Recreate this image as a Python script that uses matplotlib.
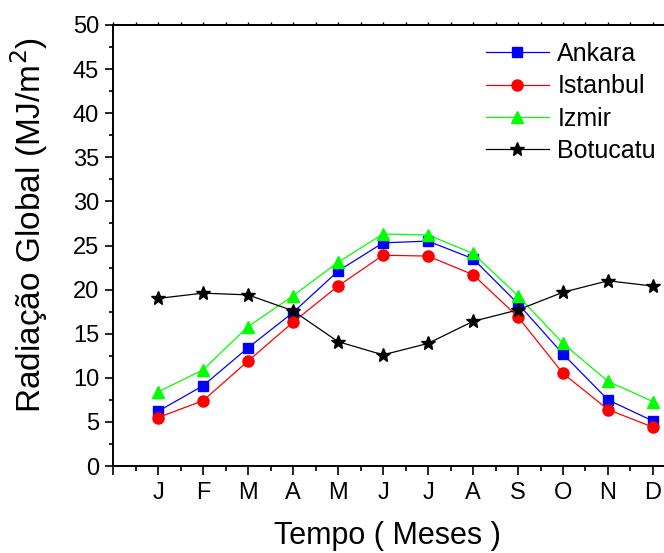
import matplotlib.pyplot as plt
import numpy as np

plt.rcParams["font.family"] = ["Liberation Sans", "DejaVu Sans"]

MONTHS = ["J", "F", "M", "A", "M", "J", "J", "A", "S", "O", "N", "D"]
ANKARA   = [6.2, 9.1, 13.4, 17.4, 22.1, 25.3, 25.5, 23.5, 18.4, 12.7, 7.5, 5.1]
ISTANBUL = [5.5, 7.4, 11.9, 16.3, 20.4, 23.9, 23.8, 21.7, 16.9, 10.5, 6.4, 4.4]
IZMIR    = [8.4, 10.9, 15.8, 19.3, 23.1, 26.3, 26.2, 24.1, 19.3, 13.9, 9.6, 7.3]
BOTUCATU = [19.0, 19.6, 19.4, 17.6, 14.1, 12.6, 13.9, 16.4, 17.7, 19.7, 21.0, 20.4]


def main():
    fig = plt.figure(figsize=(6.64, 5.53), dpi=100)
    # axes runs past the right edge, as in the cropped original
    ax = fig.add_axes([0.1702, 0.1573, 0.881, 0.7975])
    x = np.arange(1, 13)

    ax.plot(x, ANKARA, color="#0000ff", lw=0.9, marker="s", ms=7, label="Ankara")
    ax.plot(x, ISTANBUL, color="#ff0000", lw=0.9, marker="o", ms=8, label="Istanbul")
    ax.plot(x, IZMIR, color="#00ff00", lw=0.9, marker="^", ms=8.5, label="Izmir")
    ax.plot(x, BOTUCATU, color="black", lw=0.9, marker="*", ms=10, label="Botucatu")

    ax.set_xlim(0, 13)
    ax.set_ylim(0, 50)
    ax.set_xticks(np.arange(0, 14))
    ax.set_xticklabels([""] + MONTHS + [""])
    ax.set_xticks(np.arange(0.5, 13, 1), minor=True)
    ax.set_yticks(np.arange(0, 51, 5))
    ax.set_yticks(np.arange(2.5, 50, 5), minor=True)

    ax.tick_params(axis="y", which="major", direction="out", length=6,
                   width=1.2, labelsize=17, pad=4)
    ax.tick_params(axis="y", which="minor", direction="out", length=3, width=1.2)
    ax.tick_params(axis="x", which="major", direction="out", length=6.5,
                   width=1.2, labelsize=17, pad=5)
    ax.tick_params(axis="x", which="minor", direction="out", length=3.5, width=1.2)

    # small outward ticks along the top edge
    top = ax.secondary_xaxis("top")
    top.set_xticks(np.arange(0, 13.5, 0.5))
    top.set_xticklabels([])
    top.tick_params(direction="out", length=2, width=1.0)
    top.spines["top"].set_linewidth(1.4)

    for s in ax.spines.values():
        s.set_linewidth(1.4)
    ax.spines["right"].set_visible(False)

    ax.set_xlabel("Tempo ( Meses )", fontsize=22)
    ax.xaxis.set_label_coords(0.469, -0.124)
    ax.set_ylabel("Radiação Global (MJ/m$^2$)", fontsize=24)
    ax.yaxis.set_label_coords(-0.108, 0.546)

    ax.legend(loc="upper left", bbox_to_anchor=(486 / 664, 1 - 42 / 553),
              bbox_transform=fig.transFigure, frameon=False, fontsize=18,
              handlelength=2.5, handletextpad=0.35, labelspacing=0.33,
              borderpad=0, borderaxespad=0)

    fig.savefig("out.png", dpi=100)


if __name__ == "__main__":
    main()
